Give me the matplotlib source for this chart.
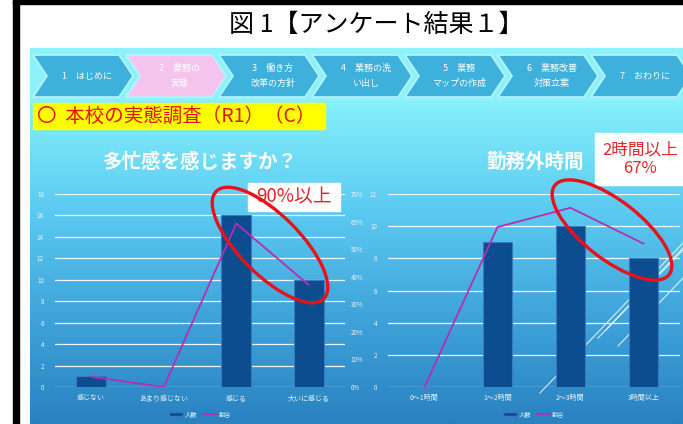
import numpy as np
import matplotlib
matplotlib.use("Agg")
import matplotlib.pyplot as plt
from matplotlib.patches import Rectangle, Polygon, Ellipse
from matplotlib.lines import Line2D
from matplotlib.colors import LinearSegmentedColormap

plt.rcParams['font.family'] = ['Noto Sans CJK JP', 'DejaVu Sans']

# --- data ---
busy_cats = ["感じない", "あまり感じない", "感じる", "大いに感じる"]
busy_count = [1, 0, 16, 10]
busy_ratio = [3.7, 0, 59.3, 37.0]

hours_cats = ["0～1時間", "1～2時間", "2～3時間", "3時間以上"]
hours_count = [0, 9, 10, 8]
hours_ratio = [0, 58, 65, 52]

steps = ["1　はじめに", "2　業務の\n実態", "3　働き方\n改革の方針", "4　業務の洗\nい出し",
         "5　業務\nマップの作成", "6　業務改善\n対策立案", "7　おわりに"]

W, H = 683, 424
fig = plt.figure(figsize=(W / 100, H / 100), dpi=100)
fig.patch.set_facecolor("white")

# background axes in pixel coordinates
bg = fig.add_axes([0, 0, 1, 1], zorder=0)
bg.set_xlim(0, W)
bg.set_ylim(H, 0)
bg.axis("off")

# slide gradient
grad = LinearSegmentedColormap.from_list("slide", ["#86f0fb", "#5ccbf1", "#3fa4da", "#2a82c0"])
bg.imshow(np.linspace(0, 1, 200).reshape(-1, 1), cmap=grad, aspect="auto",
          extent=(30, W, H, 100), zorder=0)
bg.add_patch(Rectangle((30, 48), W - 30, 52, color="#8cf1f8", zorder=0))

# black frame
bg.add_patch(Rectangle((13, 0), 6, H, color="black", zorder=5))
bg.add_patch(Rectangle((13, 0), W, 4, color="black", zorder=5))

bg.text(376, 25, "図 1【アンケート結果１】", fontsize=18, ha="center", va="center", color="black")

# navigation chevrons
for i, s in enumerate(steps):
    x0 = 33 + 93 * i
    pts = [(x0, 55), (x0 + 86, 55), (x0 + 100, 76), (x0 + 86, 97), (x0, 97), (x0 + 14, 76)]
    fc = "#f5c4ee" if i == 1 else "#3db0dc"
    bg.add_patch(Polygon(pts, closed=True, facecolor=fc, edgecolor="#b8f4fc", lw=1.2, zorder=2))
    bg.text(x0 + 54, 76, s, fontsize=6.5, ha="center", va="center", color="white",
            linespacing=1.8, zorder=3)

# heading box
bg.add_patch(Rectangle((33, 103), 292, 26, color="#ffff00", zorder=2))
bg.text(37, 116, "〇  本校の実態調査（R1）（C）", fontsize=14, color="#e8100c", va="center", zorder=3)

# chart titles
bg.text(200, 162, "多忙感を感じますか？", fontsize=14, color="white", weight="bold", ha="center", va="center")
bg.text(535, 162, "勤務外時間", fontsize=14, color="white", weight="bold", ha="center", va="center")

# decorative diagonal lines (behind the bars)
for (xa, ya), (xb, yb) in [((540, 393), (683, 243)), ((598, 338), (683, 250)),
                           ((606, 330), (683, 248)), ((618, 346), (683, 278))]:
    bg.plot([xa, xb], [ya, yb], color="white", lw=0.8, alpha=0.8, zorder=1)


def chart(rect, cats, counts, ratios, ymax, ystep, show_pct):
    ax = fig.add_axes(rect, zorder=2)
    ax.patch.set_alpha(0)
    x = np.arange(len(cats))
    ax.bar(x, counts, width=0.41, color="#0b4d8e", edgecolor="#3b78c0", lw=0.8, zorder=3)
    ax.set_xlim(-0.5, len(cats) - 0.5)
    ax.set_ylim(0, ymax)
    ax.set_yticks(np.arange(0, ymax + 1, ystep))
    ax.grid(axis="y", color="white", lw=0.9, alpha=0.9, zorder=0)
    ax.set_xticks(x)
    ax.set_xticklabels(cats, fontsize=5, color="#e8f4fb")
    ax.tick_params(axis="y", labelsize=4.5, labelcolor="#e8f4fb", length=0, pad=8)
    ax.tick_params(axis="x", length=0, pad=5)
    for sp in ax.spines.values():
        sp.set_visible(False)

    ax2 = ax.twinx()
    ax2.patch.set_alpha(0)
    ax2.plot(x, ratios, color="#b32fb5", lw=1.3, zorder=4)
    ax2.set_ylim(0, 70)
    ax2.set_yticks(np.arange(0, 71, 10))
    ax2.set_yticklabels([f"{v}%" for v in range(0, 71, 10)])
    ax2.tick_params(axis="y", labelsize=4.5, labelcolor="#e8f4fb", length=0, pad=4)
    if not show_pct:
        ax2.set_yticklabels([])
    for sp in ax2.spines.values():
        sp.set_visible(False)

    handles = [Rectangle((0, 0), 1, 1, facecolor="#0b4d8e", edgecolor="#3b78c0"),
               Line2D([0], [0], color="#b32fb5", lw=1.3)]
    ax.legend(handles, ["人数", "割合"], loc="upper center", bbox_to_anchor=(0.5, -0.09),
              ncol=2, frameon=False, fontsize=4.5, labelcolor="#e8f4fb",
              handlelength=2.2, handleheight=0.5, columnspacing=0.8, handletextpad=0.3)
    return ax


bottom = 1 - 387 / H
height = (387 - 194) / H
chart([55 / W, bottom, 290 / W, height], busy_cats, busy_count, busy_ratio, 18, 2, True)
chart([388 / W, bottom, 292 / W, height], hours_cats, hours_count, hours_ratio, 12, 2, False)

# overlay: callouts and red circles
top = fig.add_axes([0, 0, 1, 1], zorder=10)
top.set_xlim(0, W)
top.set_ylim(H, 0)
top.axis("off")
top.patch.set_alpha(0)

top.add_patch(Rectangle((248, 183), 92, 28, color="white", zorder=1))
top.text(294, 197, "90%以上", fontsize=13.5, color="#e3262a", ha="center", va="center", zorder=2)
top.add_patch(Rectangle((595, 133), 90, 52, color="white", zorder=1))
top.text(640, 159, "2時間以上\n67%", fontsize=12, color="#e3262a", ha="center", va="center",
         linespacing=1.1, zorder=2)

top.add_patch(Ellipse((270, 245), 152, 60, angle=45, fill=False, edgecolor="#e8121a", lw=2.4, zorder=3))
top.add_patch(Ellipse((612, 230), 145, 58, angle=38, fill=False, edgecolor="#e8121a", lw=2.4, zorder=3))

fig.savefig("out.png", dpi=100)
